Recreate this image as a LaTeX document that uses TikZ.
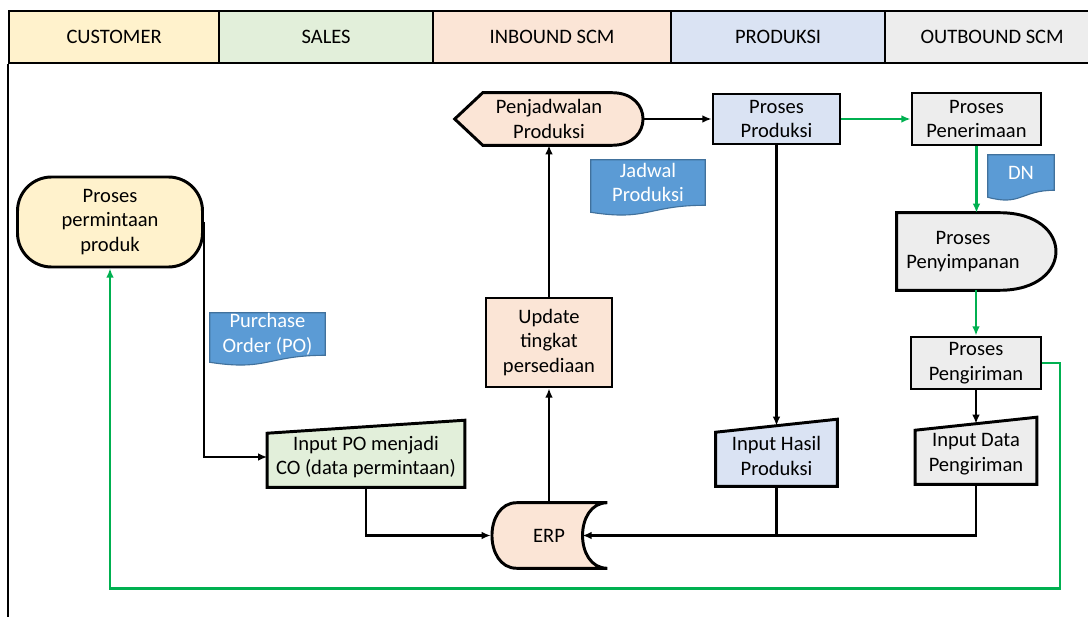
\documentclass[tikz,border=0pt]{standalone}
\usepackage{fontspec}
\setmainfont{Carlito}
\usetikzlibrary{positioning, arrows.meta, calc, backgrounds}

\definecolor{custcol}{HTML}{FFF2CC}
\definecolor{salescol}{HTML}{E2EFDA}
\definecolor{inbcol}{HTML}{FBE5D6}
\definecolor{prodcol}{HTML}{DAE3F3}
\definecolor{outbcol}{HTML}{EDEDED}
\definecolor{doccol}{HTML}{5B9BD5}
\definecolor{docline}{HTML}{41719C}
\definecolor{flowgreen}{HTML}{00B050}

% document symbol with wavy bottom
\newcommand{\docshape}[1]{%
  \filldraw[fill=doccol, draw=docline, line width=0.8pt]
    (#1.north west) -- (#1.north east) -- (#1.south east)
    .. controls (#1.south) and ($(#1.south)+(0,16)$) .. ($(#1.south west)+(0,7)$) -- cycle;}
% manual input symbol (slanted top)
\newcommand{\manualshape}[2]{%
  \filldraw[fill=#2, outline]
    ($(#1.north west)+(0,6.5)$) -- ($(#1.north east)+(0,-6.5)$)
    -- (#1.south east) -- (#1.south west) -- cycle;}

\begin{document}
\begin{tikzpicture}[
    x=0.025cm, y=-0.025cm,
    font=\fontsize{14.6}{17.6}\selectfont,
    wh/.style 2 args={minimum width=#1*0.025cm, minimum height=#2*0.025cm},
    outline/.style={draw=black, line width=2.1pt},
    box/.style={rectangle, inner sep=0pt, align=center},
    header/.style={box, draw=black, line width=1.6pt, anchor=north west},
    process/.style={box, outline},
    docnode/.style={box, text=white},
    flow/.style={-{Latex[length=6.5pt, width=5.5pt]}, line width=1.6pt},
    flowg/.style={flow, draw=flowgreen}
]
\useasboundingbox (0,0) rectangle (1088,617);

% Header lanes
\node[header, fill=custcol, wh={210}{52}] (cust) at (8,10) {CUSTOMER};
\node[header, fill=salescol, wh={214}{52}] (sales) at (218,10) {SALES};
\node[header, fill=inbcol, wh={238}{52}] (inb) at (432,10) {INBOUND SCM};
\node[header, fill=prodcol, wh={214}{52}] (prodl) at (670,10) {PRODUKSI};
\node[header, fill=outbcol, wh={214}{52}] (outb) at (884,10) {OUTBOUND SCM};
\draw[line width=1.6pt] (cust.south west) -- ++(0,560);

% Customer and sales
\node[process, fill=custcol, rounded corners=0.85cm, wh={185}{90}] (perm) at (110,222) {Proses\\permintaan\\produk};
\node[docnode, wh={115}{42}] (po) at (267.5,334) {Purchase\\Order (PO)};
\node[box, wh={197}{60}] (inpo) at (366,457) {Input PO menjadi\\CO (data permintaan)};

% Inbound SCM
\node[box, wh={116}{65}] (erp) at (549,535.5) {ERP};
\coordinate (erpin) at ($(erp.east)+(-24.75,0)$);
\node[process, fill=inbcol, wh={126}{89}] (upd) at (549,342.5) {Update\\tingkat\\persediaan};
\node[box, wh={188}{52}] (pjd) at (549,119) {Penjadwalan\\Produksi};
\node[docnode, wh={114}{45}] (jad) at (648,182.5) {Jadwal\\Produksi};

% Produksi
\node[process, fill=prodcol, wh={127}{50}] (prod) at (776.5,119) {Proses\\Produksi};
\node[box, wh={121}{60}] (inhp) at (776.5,456) {Input Hasil\\Produksi};

% Outbound SCM
\node[process, fill=outbcol, wh={129}{52}] (pen) at (976.5,119) {Proses\\Penerimaan};
\node[docnode, wh={66}{35}] (dn) at (1021,172.5) {DN};
\node[box, wh={132}{77}] (simp) at (963,251.5) {Proses\\Penyimpanan};
\node[process, fill=outbcol, wh={130}{52}] (peng) at (976,363) {Proses\\Pengiriman};
\node[box, wh={121}{60}] (inda) at (976,454) {Input Data\\Pengiriman};

% Special symbols behind the text
\begin{scope}[on background layer]
  \docshape{po}
  \docshape{jad}
  \docshape{dn}
  \manualshape{inpo}{salescol}
  \manualshape{inhp}{prodcol}
  \manualshape{inda}{outbcol}
  \filldraw[fill=inbcol, outline]
    ($(pjd.north west)+(28,0)$) -- ($(pjd.north east)+(-31,0)$)
    .. controls ($(pjd.north east)+(10,0)$) and ($(pjd.south east)+(10,0)$) .. ($(pjd.south east)+(-31,0)$)
    -- ($(pjd.south west)+(28,0)$) -- (pjd.west) -- cycle;
  \filldraw[fill=inbcol, outline]
    ($(erp.north west)+(26,0)$)
    .. controls ($(erp.north west)+(-7,0)$) and ($(erp.south west)+(-7,0)$) .. ($(erp.south west)+(26,0)$)
    -- (erp.south east)
    .. controls ($(erp.south east)+(-33,0)$) and ($(erp.north east)+(-33,0)$) .. (erp.north east) -- cycle;
  \filldraw[fill=outbcol, outline]
    (simp.north west) -- ($(simp.north west)+(103,0)$)
    .. controls ($(simp.north west)+(178,0)$) and ($(simp.south west)+(178,0)$) .. ($(simp.south west)+(103,0)$)
    -- (simp.south west) -- cycle;
\end{scope}

% Black flow
\draw[flow] (perm.east) |- (inpo.west);
\draw[flow] (inpo.south) |- (erp.west);
\draw[flow] (erp.north) -- (upd.south);
\draw[flow] (upd.north) -- (pjd.south);
\draw[flow] (pjd.east) -- (prod.west);
\draw[flow] (prod.south) -- (inhp.north);
\draw[line width=1.6pt] (inhp.south) -- (inhp.south |- erpin);
\draw[flow] (inda.south) |- (erpin);
\draw[flow] (peng.south) -- (inda.north);

% Green flow
\draw[flowg] (prod.east) -- (pen.west);
\draw[flowg] (pen.south) -- (pen.south |- simp.north);
\draw[flowg] (peng.north |- simp.south) -- (peng.north);
\coordinate (ret) at (1060,588.5);
\draw[flowg] (peng.east) -| (ret) -| (perm.south);

\end{tikzpicture}
\end{document}
